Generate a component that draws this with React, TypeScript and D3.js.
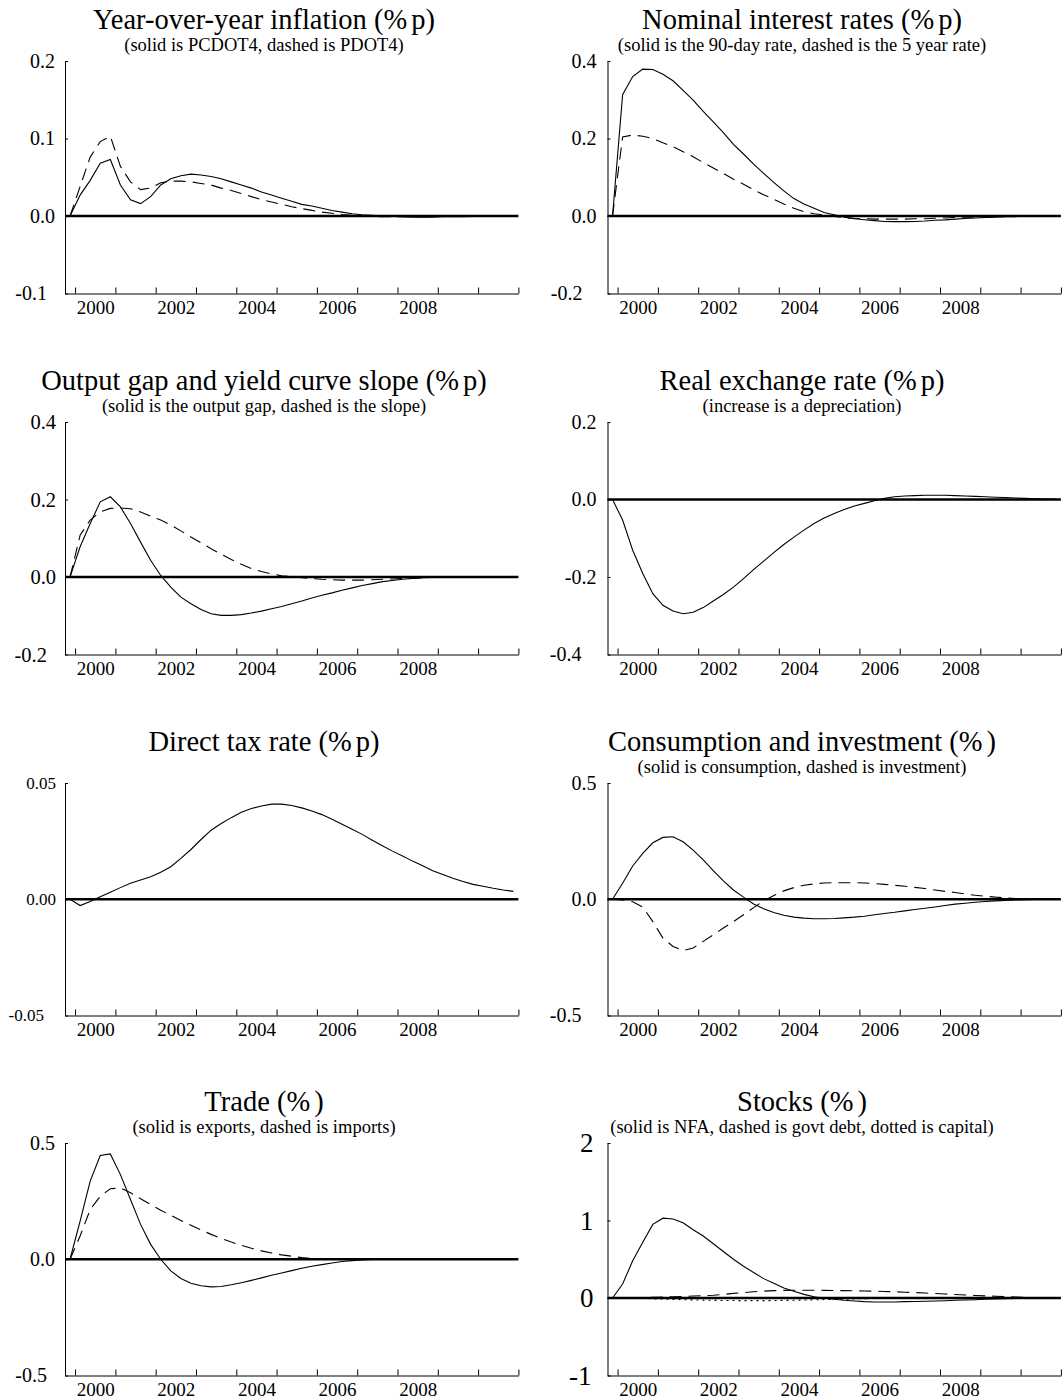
import React, { useEffect, useRef } from "react";
import * as d3 from "d3";

// quarterly observations 1999Q4 .. 2010Q4, plotted at mid-quarter
const quarters = d3.range(45).map((i) => 1999.875 + i * 0.25);
const tickYears = [2000, 2001, 2002, 2003, 2004, 2005, 2006, 2007, 2008, 2009, 2010, 2011];
const yearLabels = ["2000", "2002", "2004", "2006", "2008"];

const inflationPcdot4 = [0, 0.027, 0.046, 0.068, 0.073, 0.04, 0.021, 0.016, 0.025, 0.04, 0.048, 0.052, 0.054, 0.053, 0.051, 0.048, 0.044, 0.04, 0.036, 0.031, 0.027, 0.023, 0.019, 0.015, 0.013, 0.01, 0.007, 0.005, 0.003, 0.0017, 0.0008, 0, -0.0005, -0.001, -0.0015, -0.0015, -0.0015, -0.001, -0.001, -0.0008, -0.0005, -0.0004, -0.0003, -0.0002, -0.0001];
const inflationPdot4 = [0, 0.038, 0.076, 0.096, 0.103, 0.064, 0.044, 0.034, 0.036, 0.043, 0.045, 0.045, 0.044, 0.042, 0.04, 0.036, 0.033, 0.029, 0.025, 0.021, 0.018, 0.015, 0.012, 0.0095, 0.0073, 0.005, 0.0035, 0.002, 0.001, 0, -0.0005, -0.001, -0.001, -0.001, -0.001, -0.001, -0.0008, -0.0006, -0.0005, -0.0004, -0.0003, -0.0002, -0.0001, 0, 0];
const rate90day = [0, 0.313, 0.36, 0.379, 0.378, 0.366, 0.349, 0.324, 0.299, 0.27, 0.243, 0.215, 0.185, 0.16, 0.134, 0.11, 0.087, 0.065, 0.045, 0.031, 0.02, 0.009, 0.003, -0.003, -0.007, -0.0095, -0.012, -0.014, -0.0145, -0.0145, -0.014, -0.013, -0.011, -0.01, -0.008, -0.0065, -0.005, -0.004, -0.003, -0.002, -0.0015, -0.001, -0.0005, 0, 0];
const rate5year = [0, 0.204, 0.209, 0.206, 0.2, 0.189, 0.179, 0.166, 0.153, 0.138, 0.124, 0.11, 0.095, 0.082, 0.068, 0.055, 0.043, 0.031, 0.02, 0.011, 0.006, 0.0025, -0.001, -0.004, -0.006, -0.007, -0.008, -0.008, -0.008, -0.008, -0.007, -0.007, -0.006, -0.005, -0.004, -0.003, -0.003, -0.002, -0.002, -0.001, -0.001, -0.001, 0, 0, 0];
const outputGap = [0, 0.078, 0.138, 0.194, 0.207, 0.181, 0.138, 0.09, 0.043, 0.004, -0.026, -0.052, -0.069, -0.084, -0.095, -0.099, -0.099, -0.097, -0.093, -0.088, -0.082, -0.076, -0.069, -0.062, -0.054, -0.047, -0.041, -0.034, -0.028, -0.022, -0.017, -0.012, -0.009, -0.006, -0.004, -0.002, -0.001, 0, 0, 0, 0, 0, 0, 0, 0];
const yieldSlope = [0, 0.108, 0.147, 0.168, 0.177, 0.178, 0.176, 0.168, 0.157, 0.147, 0.134, 0.119, 0.103, 0.088, 0.073, 0.059, 0.045, 0.033, 0.022, 0.014, 0.008, 0.003, 0.001, -0.002, -0.004, -0.006, -0.007, -0.008, -0.008, -0.008, -0.007, -0.006, -0.005, -0.004, -0.003, -0.002, -0.001, -0.001, -0.001, 0, 0, 0, 0, 0, 0];
const realExchangeRate = [0, -0.053, -0.131, -0.191, -0.243, -0.273, -0.288, -0.295, -0.291, -0.279, -0.262, -0.245, -0.226, -0.204, -0.181, -0.159, -0.137, -0.116, -0.097, -0.079, -0.062, -0.048, -0.036, -0.026, -0.017, -0.01, -0.003, 0.003, 0.007, 0.009, 0.01, 0.011, 0.011, 0.011, 0.01, 0.009, 0.008, 0.007, 0.006, 0.005, 0.004, 0.003, 0.002, 0.001, 0.001];
const directTaxRate = [0, -0.0027, -0.001, 0.0011, 0.003, 0.005, 0.0069, 0.0083, 0.0097, 0.0116, 0.014, 0.0176, 0.0214, 0.0257, 0.0297, 0.0326, 0.0351, 0.0374, 0.039, 0.0401, 0.0409, 0.0409, 0.0403, 0.0393, 0.038, 0.0364, 0.0344, 0.0323, 0.0301, 0.0279, 0.0254, 0.023, 0.0207, 0.0186, 0.0164, 0.0144, 0.0123, 0.0106, 0.009, 0.0076, 0.0064, 0.0056, 0.0047, 0.004, 0.0034];
const consumption = [0, 0.069, 0.143, 0.197, 0.243, 0.266, 0.269, 0.247, 0.211, 0.169, 0.123, 0.079, 0.04, 0.009, -0.02, -0.041, -0.057, -0.069, -0.077, -0.081, -0.084, -0.084, -0.083, -0.08, -0.077, -0.073, -0.067, -0.061, -0.056, -0.05, -0.044, -0.039, -0.033, -0.027, -0.021, -0.017, -0.013, -0.01, -0.007, -0.005, -0.003, -0.002, -0.001, 0, 0];
const investment = [0, -0.003, -0.011, -0.034, -0.096, -0.167, -0.203, -0.221, -0.21, -0.181, -0.153, -0.124, -0.096, -0.067, -0.036, -0.007, 0.016, 0.036, 0.05, 0.06, 0.066, 0.07, 0.071, 0.071, 0.071, 0.07, 0.067, 0.064, 0.06, 0.056, 0.051, 0.046, 0.04, 0.034, 0.029, 0.023, 0.017, 0.013, 0.009, 0.006, 0.003, 0.002, 0.001, 0, 0];
const exports = [0, 0.164, 0.336, 0.446, 0.453, 0.364, 0.257, 0.15, 0.064, 0, -0.05, -0.083, -0.103, -0.114, -0.119, -0.117, -0.11, -0.101, -0.091, -0.08, -0.069, -0.059, -0.049, -0.039, -0.03, -0.023, -0.016, -0.01, -0.006, -0.003, -0.001, 0.001, 0.002, 0.002, 0.002, 0.002, 0.002, 0.001, 0.001, 0.001, 0.001, 0, 0, 0, 0];
const imports = [0, 0.1, 0.214, 0.271, 0.303, 0.307, 0.286, 0.26, 0.236, 0.211, 0.189, 0.167, 0.146, 0.126, 0.107, 0.09, 0.074, 0.06, 0.047, 0.036, 0.027, 0.019, 0.013, 0.007, 0.004, 0.0015, 0, -0.001, -0.001, -0.001, 0, 0, 0, 0, 0, 0, 0, 0, 0, 0, 0, 0, 0, 0, 0];
const stocksNfa = [0, 0.18, 0.48, 0.72, 0.95, 1.03, 1.02, 0.97, 0.88, 0.8, 0.7, 0.6, 0.5, 0.41, 0.33, 0.25, 0.19, 0.13, 0.086, 0.047, 0.017, -0.004, -0.017, -0.03, -0.039, -0.047, -0.052, -0.052, -0.052, -0.047, -0.045, -0.042, -0.039, -0.035, -0.03, -0.026, -0.022, -0.017, -0.013, -0.009, -0.006, -0.003, -0.001, 0, 0];
const stocksGovtDebt = [0, 0, 0.003, 0.006, 0.01, 0.014, 0.017, 0.02, 0.025, 0.03, 0.035, 0.045, 0.06, 0.07, 0.08, 0.088, 0.095, 0.098, 0.1, 0.1, 0.1, 0.099, 0.097, 0.095, 0.093, 0.09, 0.088, 0.084, 0.08, 0.075, 0.07, 0.064, 0.058, 0.052, 0.045, 0.039, 0.033, 0.027, 0.022, 0.017, 0.012, 0.008, 0.005, 0.003, 0.001];
const stocksCapital = [0, 0, -0.003, -0.006, -0.01, -0.014, -0.018, -0.022, -0.025, -0.028, -0.03, -0.032, -0.033, -0.034, -0.034, -0.034, -0.033, -0.031, -0.029, -0.026, -0.023, -0.02, -0.017, -0.014, -0.011, -0.008, -0.006, -0.004, -0.002, -0.001, 0, 0.001, 0.001, 0.001, 0.001, 0.001, 0.001, 0.001, 0, 0, 0, 0, 0, 0, 0];

const ticksA = [-0.1, 0, 0.1, 0.2];
const labelsA = ["-0.1", "0.0", "0.1", "0.2"];
const ticksB = [-0.2, 0, 0.2, 0.4];
const labelsB = ["-0.2", "0.0", "0.2", "0.4"];
const ticksC = [-0.4, -0.2, 0, 0.2];
const labelsC = ["-0.4", "-0.2", "0.0", "0.2"];
const ticksD = [-0.05, 0, 0.05];
const labelsD = ["-0.05", "0.00", "0.05"];
const ticksE = [-0.5, 0, 0.5];
const labelsE = ["-0.5", "0.0", "0.5"];
const ticksF = [-1, 0, 1, 2];
const labelsF = ["-1", "0", "1", "2"];

const panels = [
    { title: "Year-over-year inflation (%p)", subtitle: "(solid is PCDOT4, dashed is PDOT4)", col: 0, row: 0, ticks: ticksA, labels: labelsA, font: 20, gap: 10, lowGap: 18,
      series: [{ v: inflationPcdot4, dash: null }, { v: inflationPdot4, dash: "12,7" }] },
    { title: "Nominal interest rates (%p)", subtitle: "(solid is the 90-day rate, dashed is the 5 year rate)", col: 1, row: 0, ticks: ticksB, labels: labelsB, font: 20, gap: 11, lowGap: 25,
      series: [{ v: rate90day, dash: null }, { v: rate5year, dash: "12,7" }] },
    { title: "Output gap and yield curve slope (%p)", subtitle: "(solid is the output gap, dashed is the slope)", col: 0, row: 1, ticks: ticksB, labels: labelsB, font: 20.5, gap: 9, lowGap: 18,
      series: [{ v: outputGap, dash: null }, { v: yieldSlope, dash: "12,7" }] },
    { title: "Real exchange rate (%p)", subtitle: "(increase is a depreciation)", col: 1, row: 1, ticks: ticksC, labels: labelsC, font: 20, gap: 11, lowGap: 26,
      series: [{ v: realExchangeRate, dash: null }] },
    { title: "Direct tax rate (%p)", subtitle: "", col: 0, row: 2, ticks: ticksD, labels: labelsD, font: 17, gap: 9, lowGap: 21,
      series: [{ v: directTaxRate, dash: null }] },
    { title: "Consumption and investment (%)", subtitle: "(solid is consumption, dashed is investment)", col: 1, row: 2, ticks: ticksE, labels: labelsE, font: 20, gap: 11, lowGap: 26,
      series: [{ v: consumption, dash: null }, { v: investment, dash: "12,7" }] },
    { title: "Trade (%)", subtitle: "(solid is exports, dashed is imports)", col: 0, row: 3, ticks: ticksE, labels: labelsE, font: 20, gap: 10, lowGap: 18,
      series: [{ v: exports, dash: null }, { v: imports, dash: "12,7" }] },
    { title: "Stocks (%)", subtitle: "(solid is NFA, dashed is govt debt, dotted is capital)", col: 1, row: 3, ticks: ticksF, labels: labelsF, font: 27, gap: 14, lowGap: 16,
      series: [{ v: stocksNfa, dash: null }, { v: stocksGovtDebt, dash: "12,7" }, { v: stocksCapital, dash: "2,4" }] },
];

const rowTops = [61, 422, 783, 1143];
const plotH = 232.5;
const plotW = 453.4;

const App = () => {
    const ref = useRef<SVGSVGElement>(null);

    useEffect(() => {
        const svg = d3.select(ref.current);
        svg.selectAll("*").remove();

        panels.forEach((p) => {
            const x0 = p.col === 0 ? 65 : 607.5;
            const cx = p.col === 0 ? 264 : 802;
            const top = rowTops[p.row];
            const bottom = top + plotH;
            const lo = p.ticks[0];
            const hi = p.ticks[p.ticks.length - 1];

            const x = d3.scaleLinear().domain([1999.75, 2011]).range([x0, x0 + plotW]);
            const y = d3.scaleLinear().domain([lo, hi]).range([bottom, top]);

            const g = svg.append("g").attr("font-family", "'Liberation Serif', 'Times New Roman', serif");

            // title, with the little gap the original puts after "%"
            const t = g.append("text")
                .attr("x", cx)
                .attr("y", top - 32)
                .attr("text-anchor", "middle")
                .attr("font-size", 28.5);
            const parts = p.title.split("%");
            t.append("tspan").text(parts[0] + "%");
            t.append("tspan").attr("dx", 4).text(parts[1]);

            if (p.subtitle) {
                g.append("text")
                    .attr("x", cx)
                    .attr("y", top - 10)
                    .attr("text-anchor", "middle")
                    .attr("font-size", 18.5)
                    .text(p.subtitle);
            }

            // y axis
            const yAxis = g.append("g")
                .attr("transform", `translate(${x0},0)`)
                .call(d3.axisLeft(y).tickValues(p.ticks).tickSize(-3).tickSizeOuter(0).tickPadding(p.gap)
                    .tickFormat((d, i) => p.labels[i]));
            yAxis.attr("font-size", p.font).attr("font-family", null);
            yAxis.selectAll("text").attr("fill", "#000");
            yAxis.selectAll("line, path").attr("stroke", "#000");
            yAxis.selectAll("text").filter((d) => d === lo).attr("x", -p.lowGap);

            // x axis: ticks on year boundaries, labels mid-year
            const xAxis = g.append("g")
                .attr("transform", `translate(0,${bottom})`)
                .call(d3.axisBottom(x).tickValues(tickYears).tickSize(-6).tickSizeOuter(0).tickFormat(() => ""));
            xAxis.selectAll("line, path").attr("stroke", "#000");

            const xLab = g.append("g")
                .attr("transform", `translate(0,${bottom})`)
                .call(d3.axisBottom(x).tickValues(yearLabels.map((s) => +s + 0.5)).tickSize(0).tickPadding(7)
                    .tickFormat((d) => String(Math.floor(+d))));
            xLab.select(".domain").remove();
            xLab.attr("font-size", 19).attr("font-family", null);
            xLab.selectAll("text").attr("fill", "#000");

            // zero line
            g.append("line")
                .attr("x1", x0)
                .attr("x2", x0 + plotW)
                .attr("y1", y(0))
                .attr("y2", y(0))
                .attr("stroke", "#000")
                .attr("stroke-width", 2.7);

            const line = d3.line<number>()
                .x((d, i) => x(quarters[i]))
                .y((d) => y(d));

            p.series.forEach((s) => {
                g.append("path")
                    .datum(s.v)
                    .attr("d", line)
                    .attr("fill", "none")
                    .attr("stroke", "#000")
                    .attr("stroke-width", 1.1)
                    .attr("stroke-dasharray", s.dash);
            });
        });
    }, []);

    return (
        <svg
            ref={ref}
            width={1062}
            height={1399}
            style={{ position: "absolute", left: 0, top: 0, background: "#fff" }}
        />
    );
};

export default App;
